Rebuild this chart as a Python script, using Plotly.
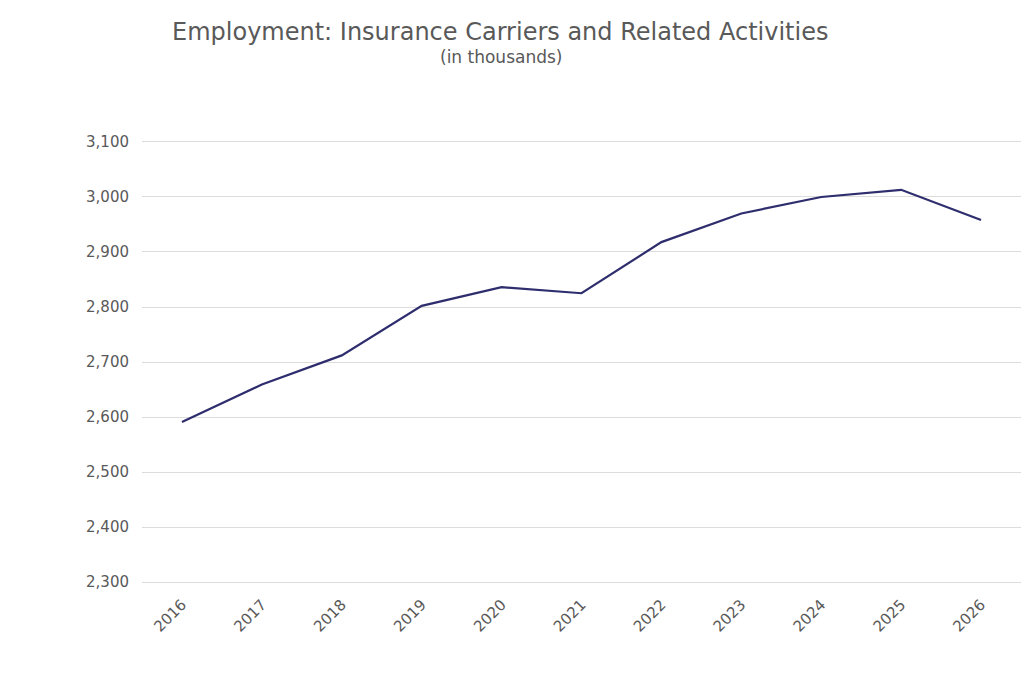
import plotly.graph_objects as go

years = ["2016", "2017", "2018", "2019", "2020", "2021", "2022", "2023", "2024", "2025", "2026"]
employment = [2591, 2659, 2712, 2802, 2836, 2825, 2918, 2970, 3000, 3013, 2958]
y_ticks = [2300, 2400, 2500, 2600, 2700, 2800, 2900, 3000, 3100]

L, R, T, B = 142, 3, 140, 107
W, H = 1024, 691
plot_w = W - L - R
plot_h = H - T - B

def px_x(x):
    return (x - L) / plot_w

def px_y(y):
    return 1 + (T - y) / plot_h

fig = go.Figure()
fig.add_trace(go.Scatter(
    x=years, y=employment, mode="lines",
    line=dict(color="#2e2d6d", width=2.2),
    hoverinfo="x+y",
))

fig.update_layout(
    width=W, height=H,
    paper_bgcolor="white", plot_bgcolor="white",
    margin=dict(l=L, r=R, t=T, b=B),
    font=dict(family="DejaVu Sans, Verdana, sans-serif", color="#595959", size=15),
    showlegend=False,
    annotations=[
        dict(text="Employment: Insurance Carriers and Related Activities",
             x=px_x(500), y=px_y(32), xref="paper", yref="paper", yanchor="middle",
             xanchor="center", showarrow=False,
             font=dict(size=24, color="#595959")),
        dict(text="(in thousands)",
             x=px_x(501), y=px_y(57), xref="paper", yref="paper", yanchor="middle",
             xanchor="center", showarrow=False,
             font=dict(size=17, color="#595959")),
    ],
)

fig.update_xaxes(
    type="category", range=[-0.5, 10.5],
    showgrid=False, showline=False, zeroline=False,
    tickangle=-45, tickfont=dict(size=15, color="#595959"),
    ticks="", ticklabelstandoff=8,
)
fig.update_yaxes(
    range=[2296.4, 3103.6], tickvals=y_ticks,
    tickformat=",d",
    showgrid=True, gridcolor="#dcdcdc", gridwidth=1,
    showline=False, zeroline=False,
    tickfont=dict(size=15, color="#595959"),
    ticks="", ticklabelstandoff=12,
)

fig.write_html("out.html", config={"displayModeBar": False},
               post_script="document.body.style.margin='0';document.body.style.overflow='hidden';")
